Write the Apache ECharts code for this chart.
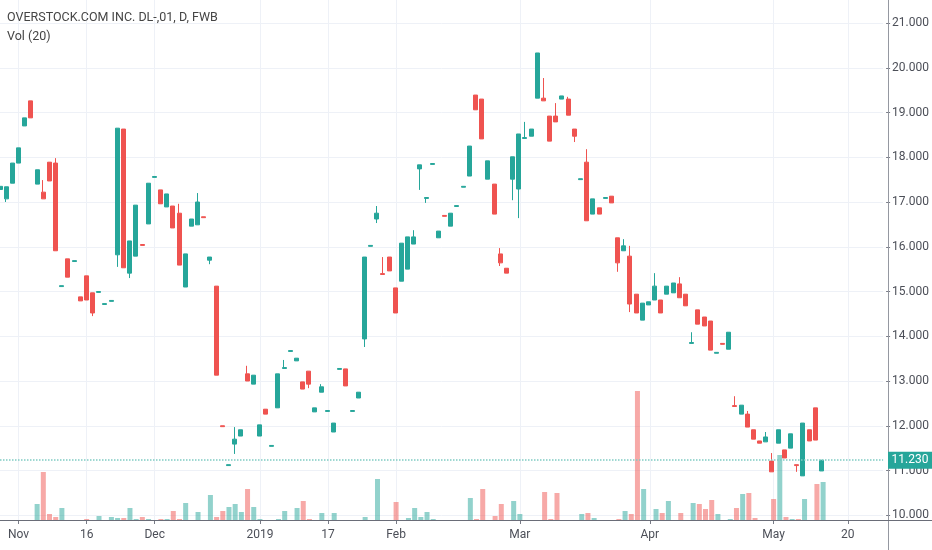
<!DOCTYPE html>
<html><head><meta charset="utf-8">
<script src="https://cdn.jsdelivr.net/npm/echarts@6/dist/echarts.min.js"></script>
<style>html,body{margin:0;padding:0;background:#fff}#c{width:932px;height:550px}</style>
</head><body><div id="c"></div>
<script>
const dates = [
'2018-10-29','2018-10-30','2018-10-31',
'2018-11-01','2018-11-02','2018-11-05','2018-11-06','2018-11-07','2018-11-08','2018-11-09','2018-11-12','2018-11-13','2018-11-14','2018-11-15','2018-11-16','2018-11-19','2018-11-20','2018-11-21','2018-11-22','2018-11-23','2018-11-26','2018-11-27','2018-11-28','2018-11-29','2018-11-30',
'2018-12-03','2018-12-04','2018-12-05','2018-12-06','2018-12-07','2018-12-10','2018-12-11','2018-12-12','2018-12-13','2018-12-14','2018-12-17','2018-12-18','2018-12-19','2018-12-20','2018-12-21','2018-12-27','2018-12-28',
'2019-01-02','2019-01-03','2019-01-04','2019-01-07','2019-01-08','2019-01-09','2019-01-10','2019-01-11','2019-01-14','2019-01-15','2019-01-16','2019-01-17','2019-01-18','2019-01-21','2019-01-22','2019-01-23','2019-01-24','2019-01-25','2019-01-28','2019-01-29','2019-01-30','2019-01-31',
'2019-02-01','2019-02-04','2019-02-05','2019-02-06','2019-02-07','2019-02-08','2019-02-11','2019-02-12','2019-02-13','2019-02-14','2019-02-15','2019-02-18','2019-02-19','2019-02-20','2019-02-21','2019-02-22','2019-02-25','2019-02-26','2019-02-27','2019-02-28',
'2019-03-01','2019-03-04','2019-03-05','2019-03-06','2019-03-07','2019-03-08','2019-03-11','2019-03-12','2019-03-13','2019-03-14','2019-03-15','2019-03-18','2019-03-19','2019-03-20','2019-03-21','2019-03-22','2019-03-25','2019-03-26','2019-03-27','2019-03-28','2019-03-29',
'2019-04-01','2019-04-02','2019-04-03','2019-04-04','2019-04-05','2019-04-08','2019-04-09','2019-04-10','2019-04-11','2019-04-12','2019-04-15','2019-04-16','2019-04-17','2019-04-18','2019-04-23','2019-04-24','2019-04-25','2019-04-26','2019-04-29','2019-04-30',
'2019-05-02','2019-05-03','2019-05-06','2019-05-07','2019-05-08','2019-05-09','2019-05-10','2019-05-13','2019-05-14','2019-05-15','2019-05-16','2019-05-17','2019-05-20','2019-05-21','2019-05-22','2019-05-23','2019-05-24','2019-05-27','2019-05-28'
];
const tickDates = ['2018-11-01','2018-11-16','2018-12-03','2019-01-02','2019-01-17','2019-02-01','2019-03-01','2019-04-01','2019-05-02','2019-05-20'];
const tickLabels = ['Nov','16','Dec','2019','17','Feb','Mar','Apr','May','20'];

const opens = [
17.28,17.07,17.42,17.87,18.70,19.26,17.40,17.22,17.89,17.87,
15.11,15.73,15.67,14.88,15.35,14.97,14.98,14.71,14.78,15.82,
18.63,15.41,15.79,16.05,16.51,17.55,17.27,16.89,16.91,16.75,
15.10,16.46,16.49,16.67,15.70,15.12,12.00,11.11,11.59,11.77,
13.16,12.93,11.77,12.37,11.54,12.40,13.28,13.66,13.45,12.98,
13.22,12.31,12.75,12.32,11.86,13.26,13.27,12.32,12.62,13.94,
16.01,16.62,15.40,15.77,15.08,15.23,15.50,16.06,17.74,17.08,
17.84,16.20,16.70,16.46,16.90,17.33,17.58,19.39,19.30,17.51,
17.40,15.84,15.52,17.51,17.29,18.42,18.47,19.32,19.32,18.92,
18.92,19.30,19.30,18.63,17.50,17.89,16.73,16.87,17.08,17.13,
16.20,15.91,15.79,14.94,14.36,14.70,14.81,14.81,14.94,14.97,
15.17,14.94,13.84,14.59,14.43,14.34,13.62,13.84,13.71,12.45,
12.26,12.26,11.91,11.66,11.64,11.21,11.61,11.46,11.50,11.13,
10.88,11.91,12.40,10.99];
const closes = [
17.35,17.34,17.87,18.21,18.88,18.88,17.72,17.07,17.47,15.91,
15.13,15.32,15.69,14.79,14.81,14.52,15.00,14.73,14.80,18.65,
15.53,16.13,16.93,16.03,17.42,17.57,16.96,17.18,16.42,15.59,
15.84,16.62,17.00,16.65,15.77,13.13,11.98,11.13,11.70,11.91,
13.00,13.13,12.02,12.26,11.56,13.16,13.30,13.68,13.51,12.82,
12.93,12.40,12.87,12.34,12.06,13.28,12.89,12.34,12.75,15.77,
16.03,16.75,15.38,15.46,14.52,16.08,16.22,16.22,17.83,17.10,
17.86,16.35,16.68,16.75,16.92,17.35,18.25,19.06,18.41,17.92,
16.73,15.64,15.41,18.01,18.52,18.44,18.63,20.33,19.26,18.36,
18.79,19.37,18.94,18.47,17.52,16.58,17.07,16.73,17.10,16.98,
15.64,16.02,14.72,14.52,14.74,14.77,15.12,14.52,15.12,15.19,
14.86,14.68,13.86,14.27,14.23,13.69,13.64,13.82,14.09,12.43,
12.46,11.97,11.70,11.61,11.75,10.97,11.91,11.28,11.82,11.11,
12.06,11.66,11.68,11.23];
const lows = [
17.28,17.00,17.42,17.87,18.70,18.88,17.40,17.07,17.47,15.91,
15.11,15.32,15.67,14.79,14.81,14.45,14.98,14.71,14.78,15.55,
15.53,15.30,15.79,16.03,16.51,17.55,16.96,16.89,16.42,15.59,
15.10,16.46,16.49,16.65,15.61,13.13,11.98,11.11,11.37,11.77,
13.00,12.93,11.77,12.26,11.54,12.40,13.28,13.66,13.45,12.82,
12.84,12.31,12.75,12.32,11.86,13.26,12.89,12.32,12.62,13.76,
16.01,16.53,15.38,15.46,14.52,15.23,15.50,16.06,17.27,16.98,
17.84,16.20,16.68,16.46,16.90,17.33,17.58,19.06,18.41,17.51,
16.73,15.57,15.41,17.04,16.64,18.42,18.47,19.32,19.26,18.36,
18.79,19.30,18.94,18.34,17.50,16.58,16.73,16.73,17.08,16.98,
15.44,15.91,14.54,14.52,14.36,14.70,14.81,14.52,14.94,14.97,
14.86,14.68,13.84,14.27,14.23,13.69,13.62,13.82,13.71,12.43,
12.26,11.97,11.70,11.61,11.64,10.97,11.61,11.28,11.50,10.97,
10.88,11.66,11.68,10.99];
const highs = [
17.35,17.34,17.87,18.21,18.88,19.26,17.72,17.49,17.89,17.98,
15.13,15.73,15.69,14.88,15.35,14.97,15.00,14.73,14.80,18.65,
18.63,16.13,16.93,16.05,17.42,17.57,17.27,17.18,16.91,16.96,
15.84,16.62,17.20,16.67,15.77,15.12,12.00,11.13,11.97,11.91,
13.34,13.13,12.02,12.37,11.56,13.16,13.47,13.68,13.51,12.98,
13.22,12.40,12.93,12.34,12.06,13.28,13.27,12.34,12.75,15.77,
16.03,16.91,15.77,15.77,15.08,16.08,16.22,16.37,17.83,17.10,
17.86,16.35,16.70,16.75,16.92,17.35,18.25,19.39,19.30,17.92,
17.40,15.97,15.52,18.01,18.52,18.79,18.63,20.33,19.77,18.92,
19.21,19.37,19.35,18.63,17.52,18.18,17.07,16.87,17.10,17.13,
16.20,16.17,16.02,14.94,14.74,14.77,15.41,14.81,15.12,15.19,
15.32,14.94,14.09,14.59,14.43,14.34,13.64,13.84,14.09,12.66,
12.46,12.33,11.91,11.66,11.86,11.39,11.91,11.46,11.82,11.13,
12.06,11.91,12.40,11.23];
const volumes = [
0,0,0,0,0,0,1600,4800,600,300,
1200,0,0,0,100,0,400,0,300,200,
200,1200,100,300,100,0,100,100,900,100,
1700,0,800,0,2500,300,900,1300,1600,800,
3100,1300,100,0,0,100,900,0,1200,1900,
100,0,700,0,700,0,0,0,0,300,
0,4100,0,0,1800,0,200,1200,300,800,
100,0,0,0,0,0,2200,100,3100,0,
400,1600,0,1900,600,0,0,0,2800,100,
2700,0,0,0,600,700,200,0,0,0,
100,900,600,12900,3100,0,1100,700,1900,0,
700,0,1700,1600,1100,2000,600,0,100,1200,
2600,2700,200,0,0,2100,6500,300,100,100,
2100,0,3600,3800];

const UP = '#26a69a', DOWN = '#ef5350';
const candleData = opens.map((o, i) => [o, closes[i], lows[i], highs[i]]);
const volData = volumes.map((v, i) => ({
  value: v,
  itemStyle: { color: closes[i] >= opens[i] ? 'rgba(38,166,154,0.5)' : 'rgba(239,83,80,0.5)' }
}));
const lastClose = closes[closes.length - 1];
const isTick = (idx, val) => tickDates.indexOf(val) >= 0;
const FONT = 'Roboto, "Noto Sans", sans-serif';

const chart = echarts.init(document.getElementById('c'));
chart.setOption({
  animation: false,
  textStyle: { fontFamily: FONT },
  grid: [
    { left: 0, right: 47, top: 23, bottom: 34.75 },
    { left: 0, right: 47, top: 0, bottom: 30 }
  ],
  xAxis: [
    { type: 'category', gridIndex: 0, data: dates, boundaryGap: false, show: false },
    { type: 'category', gridIndex: 1, data: dates, boundaryGap: false,
      axisLine: { show: false },
      axisTick: { show: true, interval: isTick, length: 4, lineStyle: { color: '#787b86' } },
      axisLabel: { interval: isTick, formatter: v => tickLabels[tickDates.indexOf(v)],
        color: '#4c4f58', fontSize: 12, margin: 9, fontFamily: FONT },
      splitLine: { show: true, interval: isTick, lineStyle: { color: '#eef1f7', width: 1 } } }
  ],
  yAxis: [
    { type: 'value', gridIndex: 0, position: 'right', offset: 3, min: 10, max: 21, interval: 1,
      axisLine: { show: false },
      axisTick: { show: true, length: 4, lineStyle: { color: '#787b86' } },
      axisLabel: { formatter: v => v.toFixed(3), color: '#4c4f58', fontSize: 12, margin: 6, fontFamily: FONT },
      splitLine: { show: true, lineStyle: { color: '#eef1f7', width: 1 } } },
    { type: 'value', gridIndex: 1, min: 0, max: 52000, show: false }
  ],
  series: [
    { type: 'bar', xAxisIndex: 1, yAxisIndex: 1, data: volData, barWidth: 5, z: 1, silent: true },
    { type: 'candlestick', xAxisIndex: 0, yAxisIndex: 0, data: candleData, barWidth: 4.5, z: 3,
      itemStyle: { color: UP, color0: DOWN, borderColor: UP, borderColor0: DOWN, borderWidth: 1 },
      markLine: {
        symbol: ['none', 'none'], silent: true, animation: false,
        data: [{ yAxis: lastClose }],
        lineStyle: { color: '#7fcbc3', type: 'dotted', width: 1.5, opacity: 1 },
        label: { show: false }
      } }
  ],
  graphic: [
    { type: 'line', silent: true, z: 10, shape: { x1: 888.5, y1: 0, x2: 888.5, y2: 550 }, style: { stroke: '#9598a1', lineWidth: 1 } },
    { type: 'line', silent: true, z: 10, shape: { x1: 0, y1: 520.5, x2: 932, y2: 520.5 }, style: { stroke: '#6a6d78', lineWidth: 1 } },
    { type: 'text', left: 7, top: 11, silent: true, style: { text: 'OVERSTOCK.COM INC. DL-,01, D, FWB', fill: '#454545', font: '12.5px ' + FONT } },
    { type: 'text', left: 7, top: 30, silent: true, style: { text: 'Vol (20)', fill: '#454545', font: '12.5px ' + FONT } }
  ]
});

// last-price tag on the price scale, positioned through the axis scale
const yPix = chart.convertToPixel({ yAxisIndex: 0 }, lastClose);
chart.setOption({
  graphic: [
    { type: 'line', silent: true, z: 10, shape: { x1: 888.5, y1: 0, x2: 888.5, y2: 550 }, style: { stroke: '#9598a1', lineWidth: 1 } },
    { type: 'line', silent: true, z: 10, shape: { x1: 0, y1: 520.5, x2: 932, y2: 520.5 }, style: { stroke: '#6a6d78', lineWidth: 1 } },
    { type: 'text', left: 7, top: 11, silent: true, style: { text: 'OVERSTOCK.COM INC. DL-,01, D, FWB', fill: '#454545', font: '12.5px ' + FONT } },
    { type: 'text', left: 7, top: 30, silent: true, style: { text: 'Vol (20)', fill: '#454545', font: '12.5px ' + FONT } },
    { type: 'rect', silent: true, z: 11, shape: { x: 888, y: yPix - 8.5, width: 44, height: 17 }, style: { fill: UP } },
    { type: 'text', silent: true, z: 12, x: 910, y: yPix, style: { text: lastClose.toFixed(3), fill: '#fff', font: '12px ' + FONT, textAlign: 'center', textVerticalAlign: 'middle' } }
  ]
}, { replaceMerge: ['graphic'] });
</script>
</body></html>
